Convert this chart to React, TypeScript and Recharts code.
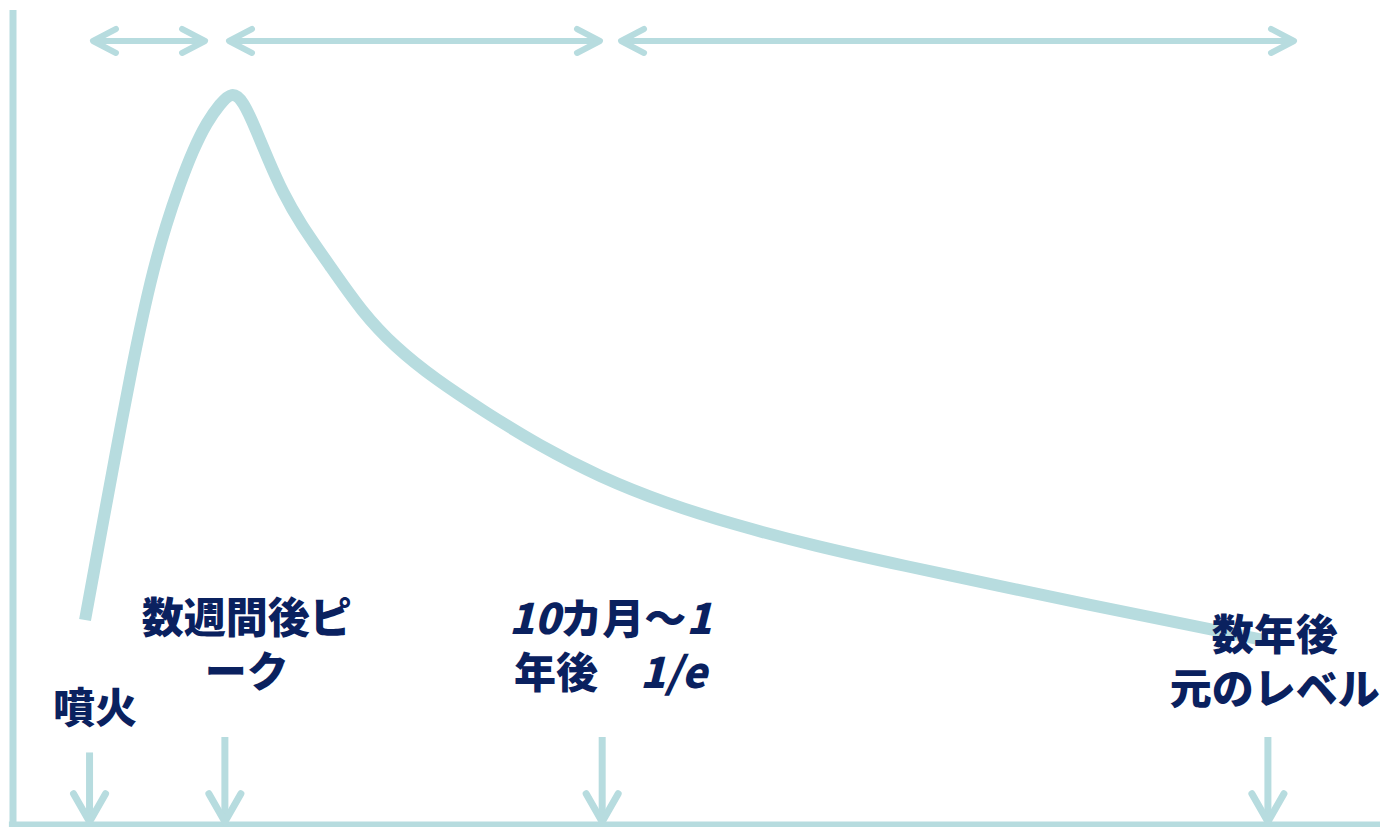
import { LineChart, Line, XAxis, YAxis, ReferenceLine, ReferenceDot } from "recharts";

const TEAL = "#b7dcdf";
const NAVY = "#0a215f";
const FONT = "'Noto Sans CJK JP', 'Noto Sans', sans-serif";

// Time runs 0–100 along the bottom, level 0–100 up the side
const times = [5.27, 5.94, 6.61, 7.29, 7.97, 8.67, 9.42, 10.26, 11.19, 12.18, 13.17, 14.19, 15.14, 16.02, 16.83, 17.78, 18.65, 19.75, 20.99, 23.19, 25.53, 27.94, 30.87, 34.53, 38.55, 42.94, 47.7, 52.82, 58.67, 65.25, 72.2, 78.79, 85.37, 91.44];
const levels = [25.15, 31.29, 37.42, 43.56, 49.69, 55.83, 61.96, 68.1, 73.62, 78.53, 82.82, 86.26, 88.47, 90.0, 88.9, 85.28, 81.72, 77.55, 73.87, 68.59, 62.94, 58.65, 54.72, 50.67, 46.5, 42.7, 39.51, 36.81, 34.23, 31.78, 29.33, 26.99, 24.79, 22.7];

// Down arrows marking each event on the time axis
const eventTimes = [5.6, 15.5, 43.1, 91.8];
const eventArrowTops = [8.9, 10.8, 10.8, 10.8];

// Double arrows spanning the periods between events
const periodStarts = [5.85, 15.8, 44.48];
const periodEnds = [14.05, 42.94, 93.71];
const periodLevel = 96.2;

// Captions (first line centre, further lines stacked below)
const captionLines = [
  ["噴火"],
  ["数週間後ピ", "ーク"],
  ["10カ月〜1", "年後　1/e"],
  ["数年後", "元のレベル"],
];
const captionX = [6.0, 17.1, 43.7, 92.3];
const captionY = [14.5, 25.5, 25.4, 23.4];

const curve = times.map((t, i) => ({ t, level: levels[i] }));

const DoubleArrow = (p: any) => {
  const { x1, y1, x2, y2 } = p;
  return (
    <g stroke={TEAL} strokeWidth={6} fill="none" strokeLinejoin="round" strokeLinecap="round">
      <line x1={x1 + 2} y1={y1} x2={x2 - 2} y2={y2} strokeLinecap="butt" />
      <polyline points={`${x1 + 23},${y1 - 12} ${x1},${y1} ${x1 + 23},${y1 + 12}`} />
      <polyline points={`${x2 - 23},${y2 - 12} ${x2},${y2} ${x2 - 23},${y2 + 12}`} />
    </g>
  );
};

const DownArrow = (p: any) => {
  const { x1, y1, y2 } = p;
  return (
    <g stroke={TEAL} strokeWidth={7} fill="none" strokeLinejoin="round" strokeLinecap="round">
      <line x1={x1} y1={y1} x2={x1} y2={y2 - 2} strokeLinecap="butt" />
      <polyline points={`${x1 - 16},${y2 - 28} ${x1},${y2} ${x1 + 16},${y2 - 28}`} />
    </g>
  );
};

// latin runs (digits, 1/e) are set slanted
const runs = (s: string) =>
  s
    .split(/([0-9A-Za-z/]+)/)
    .filter(Boolean)
    .map((r, j) =>
      /[0-9A-Za-z/]/.test(r) ? (
        <tspan key={j} fontStyle="italic">
          {r}
        </tspan>
      ) : (
        <tspan key={j}>{r}</tspan>
      )
    );

// one text element per caption, lines as tspans; baseline sits ~0.38em below the line centre
const Caption = ({ cx, cy, lines }: any) => (
  <text
    x={cx}
    y={cy + 16}
    textAnchor="middle"
    fill={NAVY}
    fontFamily={FONT}
    fontWeight={900}
    fontSize={42}
  >
    {lines.map((s: string, i: number) => (
      <tspan key={i} x={cx} dy={i === 0 ? 0 : 54}>
        {runs(s)}
      </tspan>
    ))}
  </text>
);

export default function App() {
  return (
    <div style={{ position: "absolute", left: 0, top: 0, background: "#fff" }}>
      <LineChart width={1380} height={827} data={curve} margin={{ top: 10, right: 0, bottom: 2, left: 13 }}>
        <XAxis type="number" dataKey="t" domain={[0, 100]} hide />
        <YAxis type="number" domain={[0, 100]} hide />
        {/* axis lines */}
        <ReferenceLine
          segment={[
            { x: 0, y: -0.5 },
            { x: 0, y: 100 },
          ]}
          stroke={TEAL}
          strokeWidth={7}
          ifOverflow="visible"
        />
        <ReferenceLine
          segment={[
            { x: -0.3, y: 0 },
            { x: 100, y: 0 },
          ]}
          stroke={TEAL}
          strokeWidth={7}
          ifOverflow="visible"
        />
        <Line
          type="basis"
          dataKey="level"
          stroke={TEAL}
          strokeWidth={12}
          strokeLinejoin="round"
          dot={false}
          activeDot={false}
          isAnimationActive={false}
        />
        {periodStarts.map((s, i) => (
          <ReferenceLine
            key={`p${i}`}
            segment={[
              { x: s, y: periodLevel },
              { x: periodEnds[i], y: periodLevel },
            ]}
            shape={DoubleArrow}
          />
        ))}
        {eventTimes.map((t, i) => (
          <ReferenceLine
            key={`e${i}`}
            segment={[
              { x: t, y: eventArrowTops[i] },
              { x: t, y: 0.4 },
            ]}
            shape={DownArrow}
          />
        ))}
        {captionLines.map((lines, i) => (
          <ReferenceDot
            key={`c${i}`}
            x={captionX[i]}
            y={captionY[i]}
            r={0}
            shape={(p: any) => <Caption cx={p.cx} cy={p.cy} lines={lines} />}
          />
        ))}
      </LineChart>
    </div>
  );
}
